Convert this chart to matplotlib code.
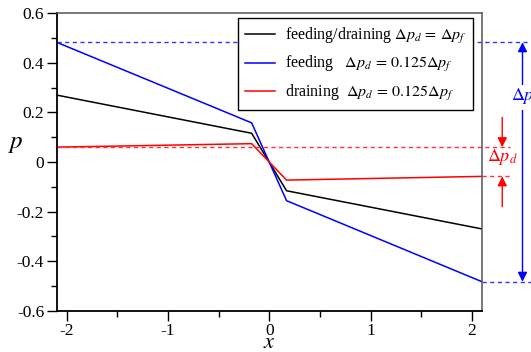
import numpy as np
import matplotlib
matplotlib.use('Agg')
from matplotlib import pyplot as plt
from matplotlib.ticker import MultipleLocator

plt.rcParams['font.family'] = ['Liberation Serif', 'DejaVu Serif']
plt.rcParams['mathtext.fontset'] = 'stix'
plt.rcParams['axes.unicode_minus'] = False

# 数据
x_pts = [-2.1, -0.175, 0.17, 2.1]
p_both = [0.27, 0.116, -0.116, -0.27]       # feeding/draining, dp_d = dp_f
p_feed = [0.483, 0.158, -0.156, -0.483]     # feeding, dp_d = 0.125 dp_f
p_drain = [0.06, 0.074, -0.073, -0.058]     # draining, dp_d = 0.125 dp_f

labels = [r'feeding/draining $\Delta p_d\,=\,\Delta p_f$',
          r'feeding   $\Delta p_d\,=\,0.125\Delta p_f$',
          r'draining  $\Delta p_d\,=\,0.125\Delta p_f$']

fig = plt.figure(figsize=(5.31, 3.52), dpi=100)
ax = fig.add_axes([0.1068, 0.1173, 0.8009, 0.8449])

ax.plot(x_pts, p_both, color='black', lw=1.1, label=labels[0])
ax.plot(x_pts, p_feed, color='#0000ff', lw=1.1, label=labels[1])
ax.plot(x_pts, p_drain, color='#ff0000', lw=1.1, label=labels[2])

ax.set_xlim(-2.1, 2.1)
ax.set_ylim(-0.6, 0.6)
ax.xaxis.set_major_locator(MultipleLocator(1))
ax.xaxis.set_minor_locator(MultipleLocator(0.5))
ax.yaxis.set_major_locator(MultipleLocator(0.2))
ax.yaxis.set_minor_locator(MultipleLocator(0.1))
ax.xaxis.set_major_formatter(plt.FuncFormatter(lambda v, _: '%g' % v))
ax.yaxis.set_major_formatter(plt.FuncFormatter(lambda v, _: '%g' % round(v, 1)))
ax.tick_params(which='major', direction='out', length=7, width=1, labelsize=12.5, pad=2)
ax.tick_params(which='minor', direction='out', length=4, width=1)
ax.tick_params(top=False, right=False, which='both')
for s in ['left', 'bottom']:
    ax.spines[s].set_linewidth(1.3)
    ax.spines[s].set_color('black')
for s in ['top', 'right']:
    ax.spines[s].set_linewidth(1.1)
    ax.spines[s].set_color('#555555')

ax.set_xlabel('$x$', fontsize=16)
ax.xaxis.set_label_coords(0.5, -0.11)
ax.xaxis.label.set_va('center')
ax.set_ylabel('$p$', fontsize=18, rotation=0)
ax.yaxis.set_label_coords(-0.095, 0.56)
ax.yaxis.label.set_va('center')

# 虚线参考线 (延伸到图外)
x_blue_end = 2.58
x_red_end = 2.38
ax.plot([x_pts[0], x_blue_end], [p_feed[0]] * 2, ls=(0, (3, 2.5)), color='#3333ff',
        lw=1, clip_on=False)
ax.plot([x_pts[-1], x_blue_end], [p_feed[-1]] * 2, ls=(0, (3, 2.5)), color='#3333ff',
        lw=1, clip_on=False)
ax.plot([x_pts[0], x_red_end], [p_drain[0]] * 2, ls=(0, (3, 2.5)), color='#ff3333',
        lw=1, clip_on=False)
ax.plot([x_pts[-1], x_red_end], [p_drain[-1]] * 2, ls=(0, (3, 2.5)), color='#ff3333',
        lw=1, clip_on=False)

# 双箭头 Δp_f
xb = 2.5
ax.annotate('', xy=(xb, p_feed[0]), xytext=(xb, p_feed[-1]), annotation_clip=False,
            arrowprops=dict(arrowstyle='<|-|>', color='#0000ff', lw=1,
                            mutation_scale=14, shrinkA=0, shrinkB=0))
ax.text(2.385, 0.26, r'$\Delta p_f$', color='#0000ff', fontsize=13, ha='left', va='center',
        bbox=dict(facecolor='white', edgecolor='none', pad=1), clip_on=False)

# 箭头 Δp_d
xr = 2.3
ax.annotate('', xy=(xr, p_drain[0]), xytext=(xr, 0.18), annotation_clip=False,
            arrowprops=dict(arrowstyle='-|>', color='#ff0000', lw=1,
                            mutation_scale=14, shrinkA=0, shrinkB=0))
ax.annotate('', xy=(xr, p_drain[-1]), xytext=(xr, -0.18), annotation_clip=False,
            arrowprops=dict(arrowstyle='-|>', color='#ff0000', lw=1,
                            mutation_scale=14, shrinkA=0, shrinkB=0))
ax.text(xr, 0.02, r'$\Delta p_d$', color='#ff0000', fontsize=13, ha='center', va='center',
        clip_on=False)

leg = ax.legend(loc='upper right', bbox_to_anchor=(0.98, 0.983), borderaxespad=0,
                fancybox=False, edgecolor='black', framealpha=1, fontsize=11.5,
                handlelength=1.9, handletextpad=0.6, labelspacing=0.55, borderpad=0.45)
leg.get_frame().set_linewidth(1)

fig.savefig('out.png', dpi=100)
